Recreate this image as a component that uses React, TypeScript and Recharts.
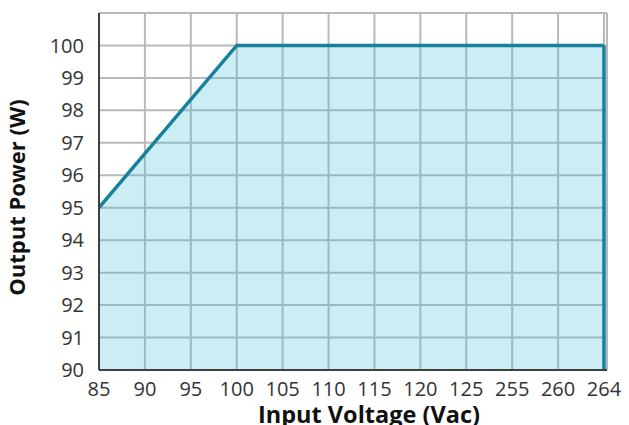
import React from 'react';
import {
  AreaChart,
  Area,
  XAxis,
  YAxis,
  CartesianGrid,
  ReferenceLine,
} from 'recharts';

// input voltage categories (evenly spaced on the chart)
const voltages = ['85', '90', '95', '100', '105', '110', '115', '120', '125', '255', '260', '264'];
// derating curve: linear from 85V to 100V, then flat
const power = [95, null, null, 100, 100, 100, 100, 100, 100, 100, 100, 100];
const yTicks = [90, 91, 92, 93, 94, 95, 96, 97, 98, 99, 100];

const data = voltages.map((v, i) => ({ v, p: power[i] }));

const FONT = '"Open Sans", sans-serif';
const LINE = '#17809c';
const FRAME = '#404040';

const XTitle = (props: any) => {
  const { x, width, y, height } = props.viewBox;
  return (
    <text
      x={x + width / 2 + 16}
      y={y + height - 2}
      textAnchor="middle"
      fontFamily={FONT}
      fontWeight={700}
      fontSize={23.5}
      fill="#111"
    >
      Input Voltage (Vac)
    </text>
  );
};

const YTitle = (props: any) => {
  const { y, height } = props.viewBox;
  const cx = 25;
  const cy = y + height / 2 + 6;
  return (
    <text
      x={cx}
      y={cy}
      transform={`rotate(-90, ${cx}, ${cy})`}
      textAnchor="middle"
      fontFamily={FONT}
      fontWeight={700}
      fontSize={22}
      fill="#111"
    >
      Output Power (W)
    </text>
  );
};

export default function App() {
  const last = data[data.length - 1];
  return (
    <div style={{ width: 629, height: 425 }}>
      <style>{'body{margin:0}'}</style>
      <AreaChart
        width={629}
        height={425}
        data={data}
        margin={{ top: 13, right: 22, bottom: 0, left: 0 }}
      >
        <CartesianGrid stroke="#b9b9b9" strokeWidth={2} />
        <XAxis
          dataKey="v"
          padding={{ left: 0, right: 3 }}
          height={55}
          tickSize={0}
          tickMargin={12}
          tickLine={false}
          axisLine={{ stroke: FRAME, strokeWidth: 2 }}
          tick={{ fill: '#333', fontSize: 20, fontFamily: FONT }}
          interval={0}
          label={<XTitle />}
        />
        <XAxis
          xAxisId="top"
          dataKey="v"
          orientation="top"
          height={0}
          tick={false}
          tickLine={false}
          axisLine={{ stroke: FRAME, strokeWidth: 2 }}
        />
        <YAxis
          domain={[90, 101]}
          ticks={yTicks}
          width={99}
          tickSize={0}
          tickMargin={15}
          tickLine={false}
          axisLine={{ stroke: FRAME, strokeWidth: 2 }}
          tick={{ fill: '#333', fontSize: 20, fontFamily: FONT }}
          interval={0}
          label={<YTitle />}
        />
        <YAxis
          yAxisId="right"
          orientation="right"
          domain={[90, 101]}
          width={0}
          tick={false}
          tickLine={false}
          axisLine={{ stroke: FRAME, strokeWidth: 2 }}
        />
        <Area
          type="linear"
          dataKey="p"
          connectNulls
          stroke={LINE}
          strokeWidth={3.5}
          fill="#40bcd4"
          fillOpacity={0.27}
          baseValue={90}
          isAnimationActive={false}
        />
        <ReferenceLine
          segment={[
            { x: last.v, y: 90 },
            { x: last.v, y: last.p as number },
          ]}
          stroke={LINE}
          strokeWidth={3.5}
        />
      </AreaChart>
    </div>
  );
}
